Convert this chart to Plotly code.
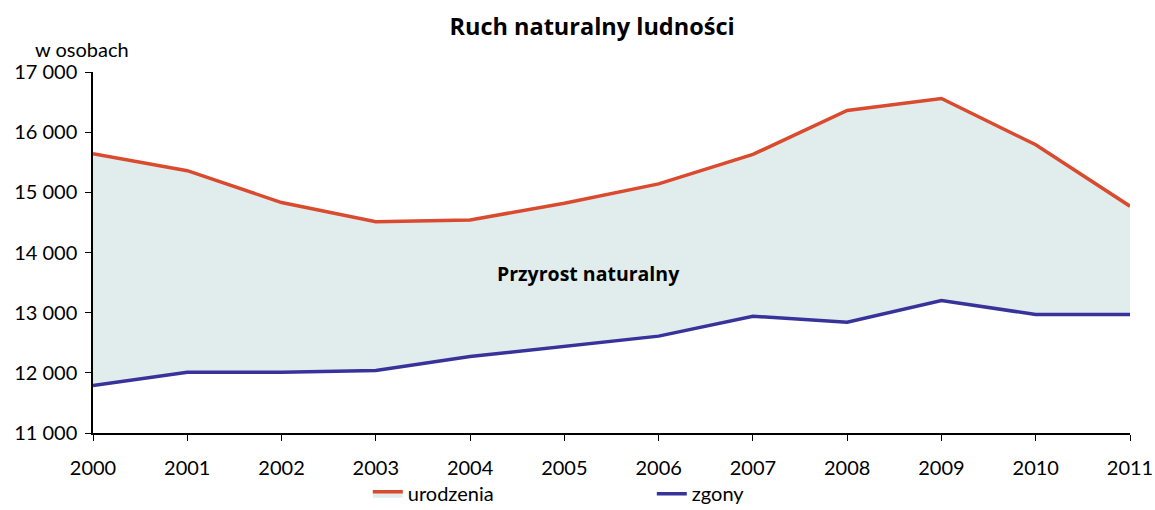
import plotly.graph_objects as go

years = [2000, 2001, 2002, 2003, 2004, 2005, 2006, 2007, 2008, 2009, 2010, 2011]
urodzenia = [15640, 15360, 14830, 14510, 14540, 14820, 15140, 15630, 16360, 16560, 15790, 14770]
zgony = [11790, 12010, 12010, 12040, 12270, 12440, 12610, 12940, 12840, 13200, 12970, 12970]
y_ticks = [11000, 12000, 13000, 14000, 15000, 16000, 17000]
y_tick_labels = ["11 000", "12 000", "13 000", "14 000", "15 000", "16 000", "17 000"]

font_family = "Lato, Open Sans, sans-serif"
bold_family = "Open Sans, Noto Sans, sans-serif"

fig = go.Figure()
fig.add_trace(go.Scatter(
    x=years, y=zgony, name="zgony", mode="lines",
    line=dict(color="#38339B", width=3.5), legendrank=2,
))
fig.add_trace(go.Scatter(
    x=years, y=urodzenia, name="urodzenia", mode="lines",
    line=dict(color="#DA4A2E", width=3.5), fill="tonexty",
    fillcolor="#E1EDED", legendrank=1,
))

fig.update_layout(
    width=1155, height=510,
    margin=dict(l=93, r=25, t=72, b=77, autoexpand=False),
    plot_bgcolor="white", paper_bgcolor="white",
    font=dict(family=font_family, size=20, color="black"),
    title=dict(text="<b>Ruch naturalny ludności</b>", x=0.5126, xanchor="center",
               y=0.947, yanchor="middle", font=dict(family=bold_family, size=23.5)),
    showlegend=True,
    legend=dict(orientation="h", traceorder="normal", x=0.265, xanchor="left",
                yref="container", y=0.032, yanchor="middle",
                font=dict(size=20), entrywidth=239, bgcolor="rgba(0,0,0,0)"),
    xaxis=dict(range=[2000, 2011], tickvals=years, ticktext=[str(y) for y in years],
               showgrid=False, zeroline=False, showline=True, linecolor="black",
               linewidth=1.5, ticks="outside", ticklen=6, tickcolor="black",
               ticklabelstandoff=10, automargin=False),
    yaxis=dict(range=[11000, 17000], tickvals=y_ticks, ticktext=y_tick_labels,
               showgrid=False, zeroline=False, showline=True, linecolor="black",
               linewidth=1.5, ticks="outside", ticklen=6, tickcolor="black",
               ticklabelstandoff=4, automargin=False),
    annotations=[
        dict(text="w osobach", xref="paper", yref="paper", x=-0.0577, y=1.025,
             xanchor="left", yanchor="bottom", showarrow=False, font=dict(size=20)),
        dict(text="<b>Przyrost naturalny</b>", xref="x", yref="y", x=2005.26, y=13650,
             showarrow=False, font=dict(family=bold_family, size=19.5)),
    ],
)

fig.write_html(
    "out.html",
    config={"displayModeBar": False},
    post_script="document.body.style.margin='0';document.body.style.overflow='hidden';",
)
